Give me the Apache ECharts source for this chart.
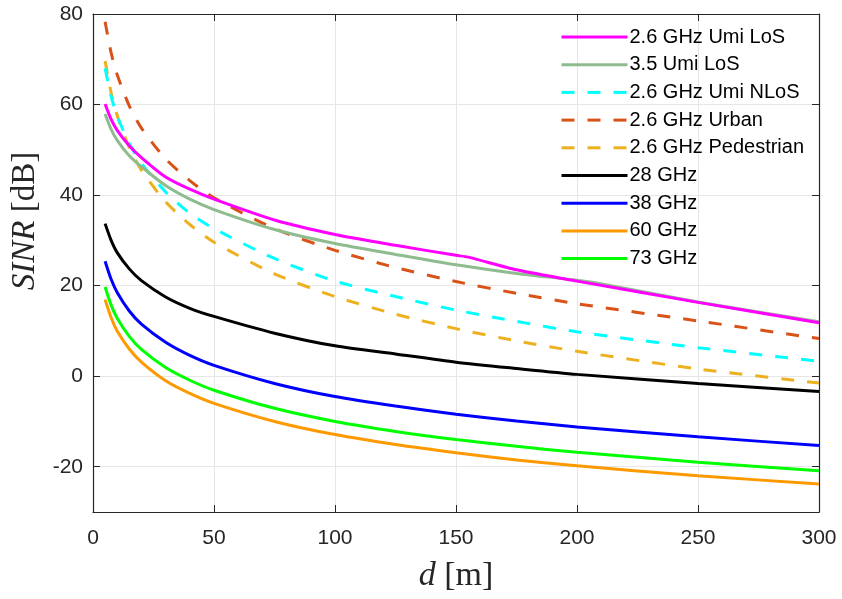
<!DOCTYPE html>
<html>
<head>
<meta charset="utf-8">
<script src="https://cdn.jsdelivr.net/npm/echarts@6/dist/echarts.min.js"></script>
<style>html,body{margin:0;padding:0;background:#fff}#c{width:842px;height:599px}</style>
</head>
<body>
<div id="c"></div>
<script>
// distances [m]
const d = [5, 7.5, 10, 15, 20, 30, 40, 50, 75, 100, 125, 150, 175, 200, 250, 300];
const dPink = [5, 7.5, 10, 15, 20, 30, 40, 50, 75, 100, 125, 150, 155, 175, 200, 250, 300];
const dGray = [5, 7.5, 10, 15, 20, 30, 40, 50, 75, 100, 125, 150, 175, 200, 208, 250, 300];

// SINR [dB]
const umiLos26  = [60.1, 56.7, 54.3, 50.9, 48.3, 44.0, 41.3, 39.1, 34.5, 31.3, 28.9, 26.7, 26.3, 23.5, 21.0, 16.3, 11.8];
const umiLos35  = [57.9, 54.5, 52.1, 48.7, 46.3, 42.1, 39.1, 36.8, 32.4, 29.3, 26.9, 24.6, 22.7, 21.2, 20.6, 16.4, 12.0];
const umiNlos26 = [68.0, 61.8, 57.5, 51.4, 47.0, 40.7, 36.0, 32.6, 26.0, 21.0, 17.6, 14.6, 12.1, 9.8, 6.3, 3.3];
const urban26   = [78.3, 71.4, 66.6, 59.7, 54.8, 48.0, 43.2, 39.4, 32.6, 27.8, 24.0, 20.9, 18.3, 16.0, 12.2, 8.3];
const ped26     = [69.6, 62.6, 57.6, 50.5, 45.5, 38.5, 33.5, 29.6, 22.6, 17.6, 13.7, 10.5, 7.8, 5.5, 1.6, -1.5];
const ghz28     = [33.7, 30.0, 27.3, 23.7, 21.1, 17.5, 15.0, 13.2, 9.5, 6.7, 4.9, 3.1, 1.7, 0.4, -1.6, -3.4];
const ghz38     = [25.4, 21.4, 18.5, 14.4, 11.5, 7.5, 4.6, 2.4, -1.6, -4.5, -6.6, -8.4, -9.9, -11.2, -13.4, -15.3];
const ghz60     = [16.9, 12.9, 10.0, 6.0, 3.1, -1.0, -3.8, -6.0, -10.0, -12.9, -15.1, -16.9, -18.5, -19.8, -22.0, -23.8];
const ghz73     = [19.7, 15.7, 12.8, 8.8, 5.9, 1.9, -0.9, -3.1, -7.1, -10.0, -12.2, -14.0, -15.5, -16.8, -19.0, -20.9];

const names = ['2.6 GHz Umi LoS', '3.5 Umi LoS', '2.6 GHz Umi NLoS', '2.6 GHz Urban', '2.6 GHz Pedestrian', '28 GHz', '38 GHz', '60 GHz', '73 GHz'];
const xTicks = [0, 50, 100, 150, 200, 250, 300];
const yRange = [-30, 80];

const colors = ['#ff00ff', '#8fbc8f', '#00ffff', '#d95319', '#edb120', '#000000', '#0000ff', '#ff9900', '#00ff00'];
const dashed = [false, false, true, true, true, false, false, false, false];
const xs = [dPink, dGray, d, d, d, d, d, d, d];
const ys = [umiLos26, umiLos35, umiNlos26, urban26, ped26, ghz28, ghz38, ghz60, ghz73];

const axisColor = '#262626';
const series = names.map((n, i) => ({
  name: n,
  type: 'line',
  data: xs[i].map((x, k) => [x, ys[i][k]]),
  showSymbol: false,
  symbol: 'none',
  smooth: 0.25,
  lineStyle: {color: colors[i], width: 3, type: dashed[i] ? [13, 13] : 'solid'},
  itemStyle: {color: colors[i]},
  z: 10 - i
}));

const nameRich = size => ({
  i: {fontFamily: 'Liberation Serif', fontStyle: 'italic', fontSize: size, color: axisColor},
  n: {fontFamily: 'Liberation Serif', fontSize: size, color: axisColor}
});

const chart = echarts.init(document.getElementById('c'), null, {renderer: 'canvas'});
chart.setOption({
  animation: false,
  backgroundColor: '#fff',
  grid: {left: 93, right: 23, top: 14, bottom: 87, containLabel: false},
  legend: {
    orient: 'vertical',
    left: 555, top: 22,
    itemWidth: 66, itemHeight: 14, itemGap: 7.7,
    itemStyle: {opacity: 0},
    lineStyle: {width: 3},
    textStyle: {fontFamily: 'Liberation Sans', fontSize: 20, color: '#000', padding: [0, 0, 0, -3]},
    data: names
  },
  xAxis: [{
    type: 'value', min: 0, max: 300, interval: 50,
    name: '{i|d} {n|[m]}', nameLocation: 'middle', nameGap: 47,
    nameTextStyle: {fontFamily: 'Liberation Serif', fontSize: 34, color: axisColor, rich: nameRich(34)},
    axisLine: {show: true, onZero: false, lineStyle: {color: axisColor, width: 1.2}},
    axisTick: {show: true, inside: true, length: 7, lineStyle: {color: axisColor}},
    axisLabel: {fontFamily: 'Liberation Sans', fontSize: 21, color: axisColor, margin: 16},
    splitLine: {show: true, lineStyle: {color: '#e6e6e6', width: 1}}
  }, {
    type: 'value', min: 0, max: 300, interval: 50, position: 'top',
    axisLine: {show: true, onZero: false, lineStyle: {color: axisColor, width: 1.2}},
    axisTick: {show: true, inside: true, length: 7, lineStyle: {color: axisColor}},
    axisLabel: {show: false}, splitLine: {show: false}
  }],
  yAxis: [{
    type: 'value', min: yRange[0], max: yRange[1], splitNumber: 5,
    name: '{i|SINR} {n|[dB]}', nameLocation: 'middle', nameGap: 47,
    nameTextStyle: {fontFamily: 'Liberation Serif', fontSize: 33, color: axisColor, rich: nameRich(33), padding: [0, 0, 0, 84]},
    axisLine: {show: true, onZero: false, lineStyle: {color: axisColor, width: 1.2}},
    axisTick: {show: true, inside: true, length: 7, lineStyle: {color: axisColor}},
    axisLabel: {fontFamily: 'Liberation Sans', fontSize: 21, color: axisColor, margin: 10,
      formatter: v => (v === yRange[0] ? '' : String(v))},
    splitLine: {show: true, lineStyle: {color: '#e6e6e6', width: 1}}
  }, {
    type: 'value', min: yRange[0], max: yRange[1], splitNumber: 5, position: 'right',
    axisLine: {show: true, onZero: false, lineStyle: {color: axisColor, width: 1.2}},
    axisTick: {show: true, inside: true, length: 7, lineStyle: {color: axisColor}},
    axisLabel: {show: false}, splitLine: {show: false}
  }],
  series: series
});
</script>
</body>
</html>
